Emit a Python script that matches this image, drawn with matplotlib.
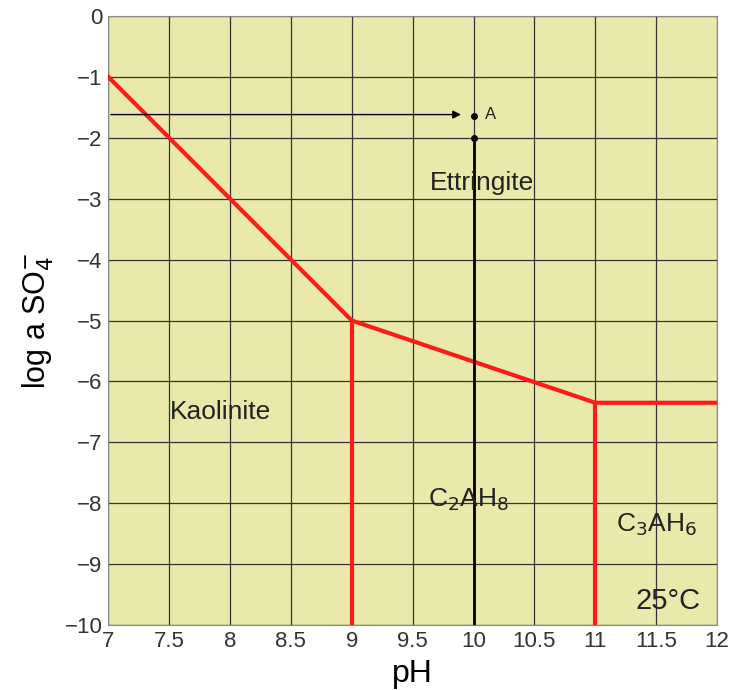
import numpy as np
import matplotlib.pyplot as plt

plt.rcParams['font.family'] = ['Liberation Sans', 'DejaVu Sans']

# stability boundaries (pH, log a SO4)
boundary_ph = [7, 9, 11, 12]
boundary_so4 = [-1, -5, -6.35, -6.35]
vert_ph = [9, 11]
vert_top = [-5, -6.35]

# point A and its projection
point_a = (10, -1.65)
arrow_y = -1.62
arrow_end = 9.92

labels = ['Ettringite', 'Kaolinite', r'C$_2$AH$_8$', r'C$_3$AH$_6$', '25°C']
label_pos = [(10.07, -2.75), (7.92, -6.5), (9.96, -7.95), (11.5, -8.35), (11.6, -9.6)]
label_size = [19, 19, 19, 19, 21]

fig = plt.figure(figsize=(7.31, 6.90), dpi=100)
ax = fig.add_axes([0.148, 0.094, 0.833, 0.883])
ax.set_facecolor('#e9e9ab')

ax.set_xlim(7, 12)
ax.set_ylim(-10, 0)
ax.set_xticks(np.arange(7, 12.01, 0.5))
ax.set_xticklabels(['7', '7.5', '8', '8.5', '9', '9.5', '10', '10.5', '11', '11.5', '12'])
ax.set_yticks(np.arange(-10, 0.1, 1))
ax.grid(True, color='#333333', linewidth=0.9)
ax.set_axisbelow(True)
ax.tick_params(length=0, labelsize=16, colors='#333333', pad=4)
for s in ax.spines.values():
    s.set_color('#888888')

# red boundaries
ax.plot(boundary_ph, boundary_so4, color='#ff1a1a', linewidth=3, zorder=3)
for x, top in zip(vert_ph, vert_top):
    ax.plot([x, x], [-10, top], color='#ff1a1a', linewidth=3, zorder=3)

# black vertical at pH 10
ax.plot([10, 10], [-10, -2], color='black', linewidth=2, zorder=3)
ax.plot([10], [-2], 'o', color='black', markersize=4, zorder=4)
ax.plot([point_a[0]], [point_a[1]], 'o', color='black', markersize=4, zorder=4)
ax.text(point_a[0] + 0.09, point_a[1] + 0.03, 'A', fontsize=12, va='center', color='#222222')
ax.annotate('', xy=(arrow_end, arrow_y), xytext=(7, arrow_y),
            arrowprops=dict(arrowstyle='-|>', color='black', lw=1, mutation_scale=12))

for t, (x, y), fs in zip(labels, label_pos, label_size):
    ax.text(x, y, t, fontsize=fs, ha='center', va='center', color='#222222', zorder=5)

ax.set_xlabel('pH', fontsize=23, labelpad=5)
ax.set_ylabel(r'log a SO$_4^{-}$', fontsize=22, labelpad=6)

fig.savefig('out.png', dpi=100)
